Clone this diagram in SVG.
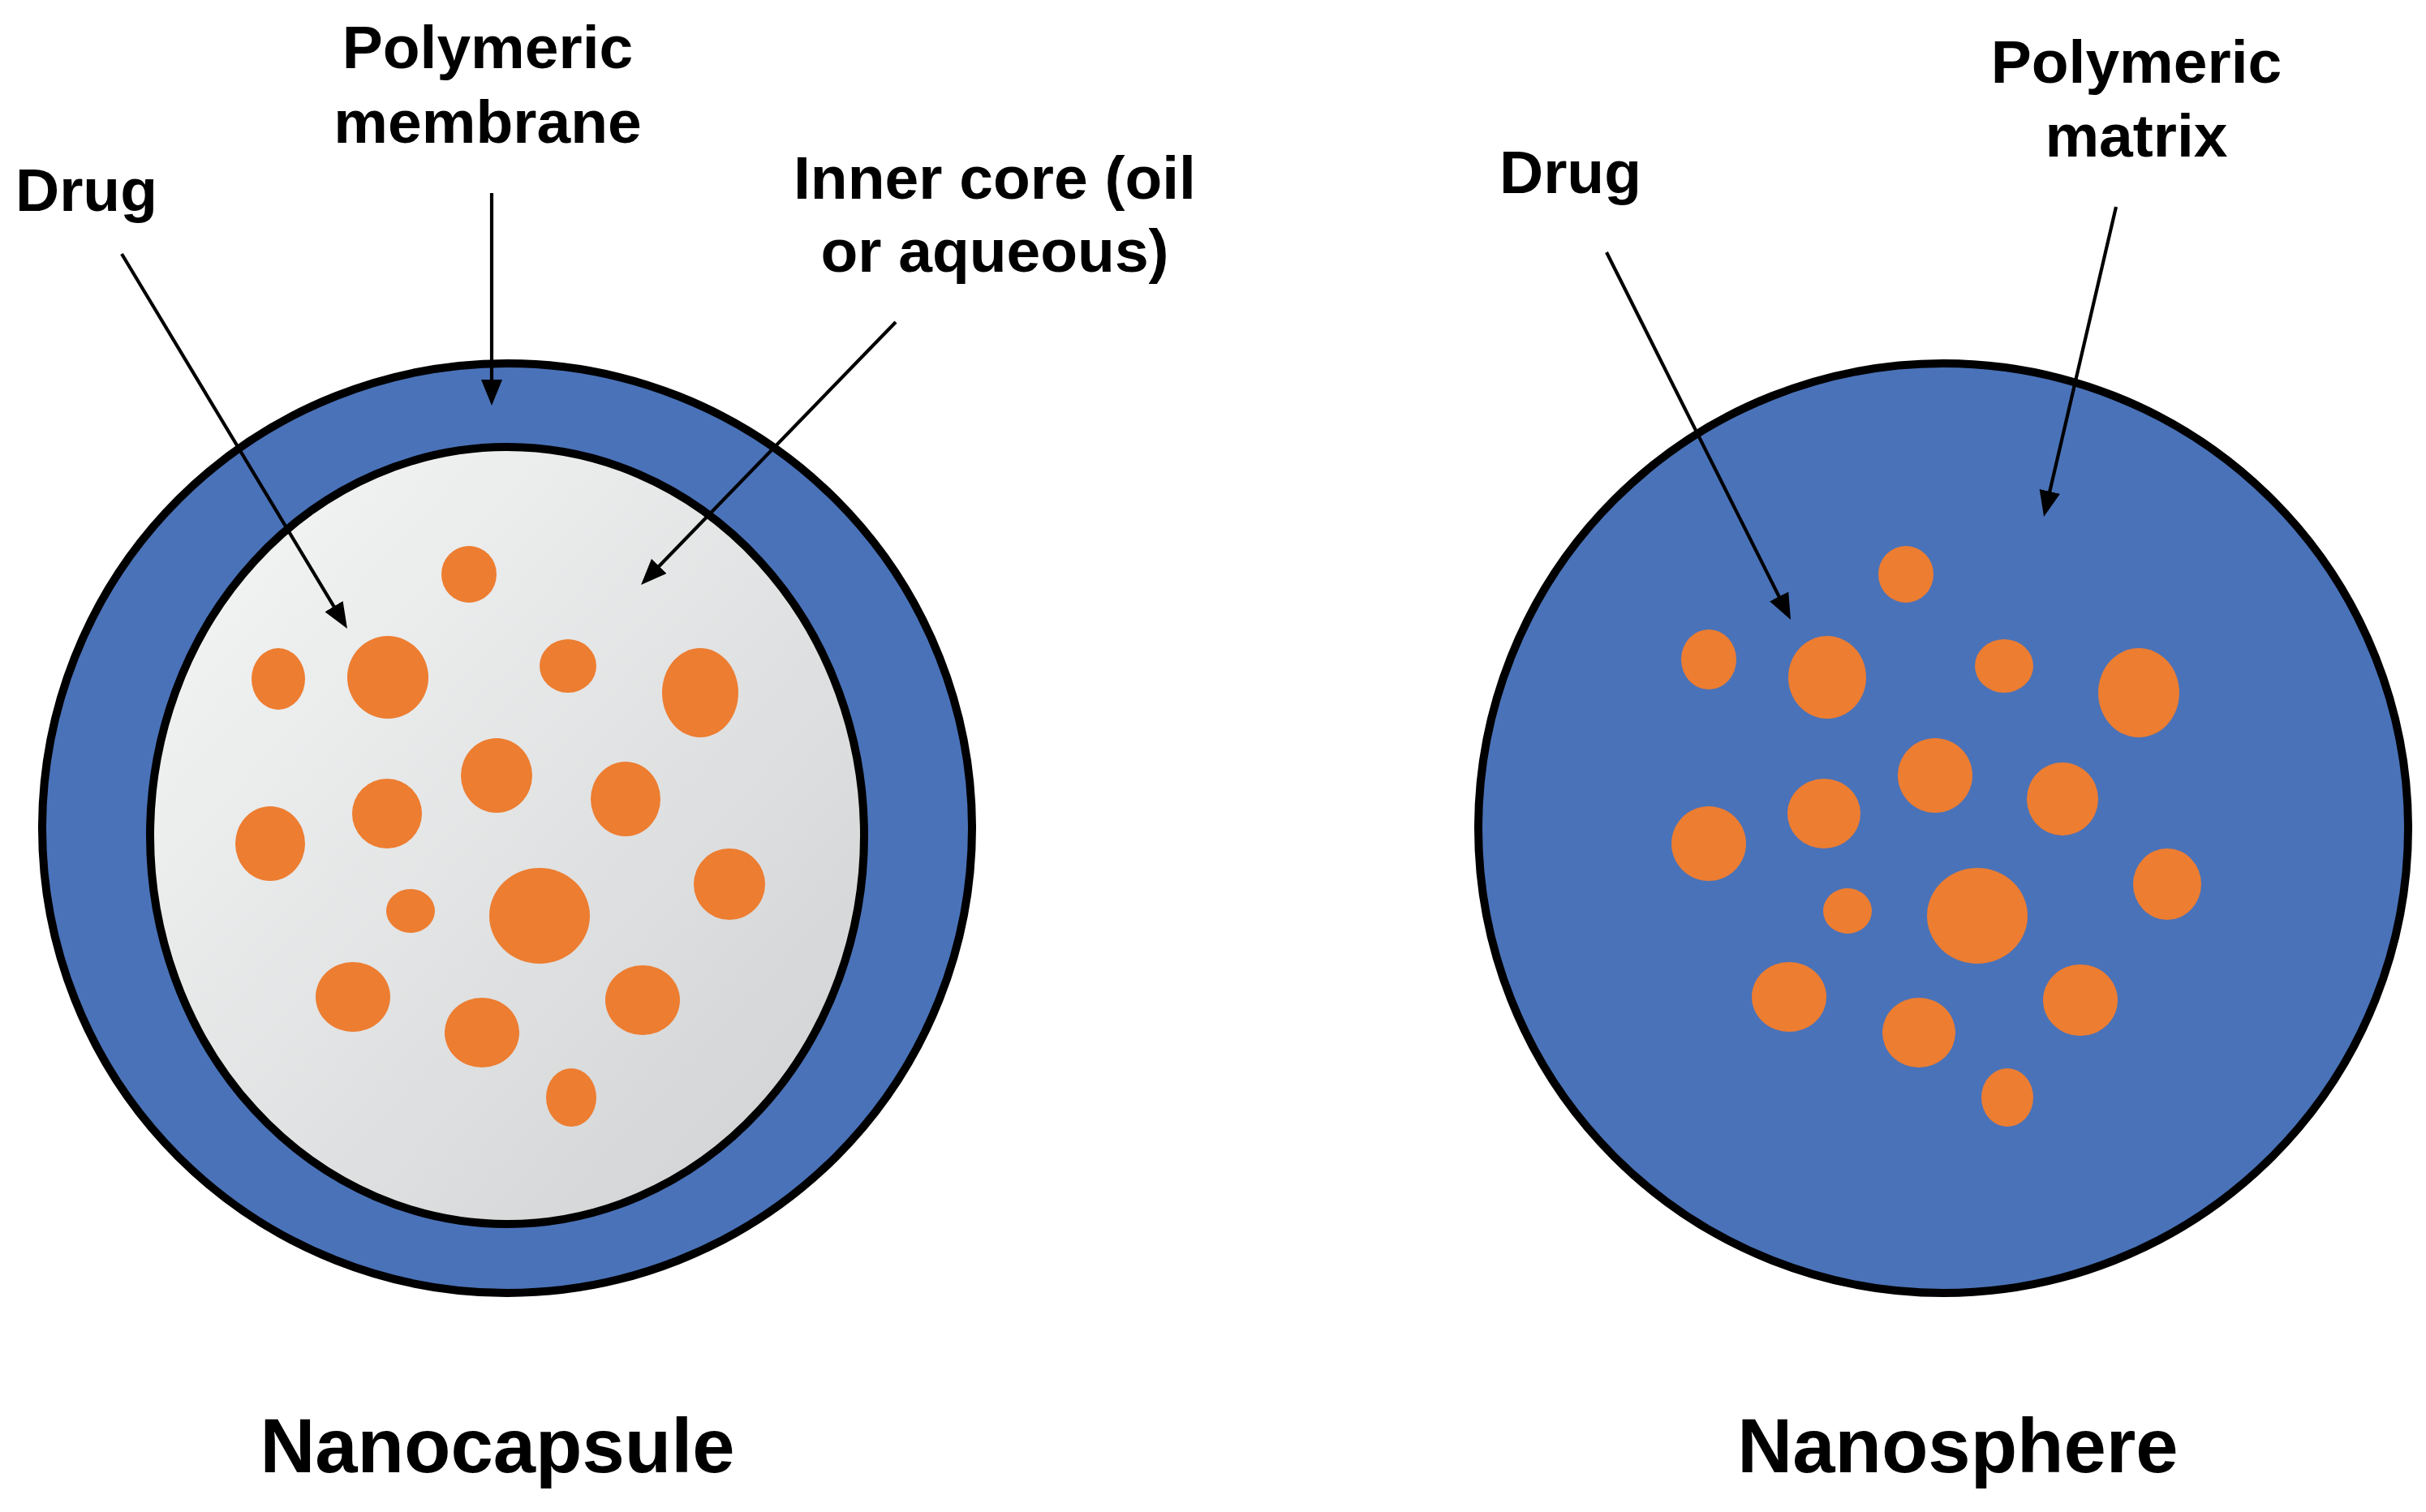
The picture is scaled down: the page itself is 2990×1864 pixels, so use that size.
<svg xmlns="http://www.w3.org/2000/svg" width="2990" height="1864" viewBox="0 0 2990 1864">
<style>
.lbl{font-family:"Liberation Sans",Arial,sans-serif;font-weight:bold;font-size:75px;fill:#000}
.title{font-family:"Liberation Sans",Arial,sans-serif;font-weight:bold;font-size:94px;fill:#000}
.shell{fill:#4A72B8;stroke:#000;stroke-width:10}
.dot{fill:#ED7D31}
.arr{stroke:#000;stroke-width:4.2;fill:none;marker-end:url(#ah)}
</style>
<defs>
<linearGradient id="core" x1="0" y1="0" x2="1" y2="1">
<stop offset="0" stop-color="#f6f7f7"/>
<stop offset="1" stop-color="#cfd0d1"/>
</linearGradient>
<marker id="ah" viewBox="0 0 32 26" refX="22" refY="13" markerWidth="32" markerHeight="26" markerUnits="userSpaceOnUse" orient="auto">
<path d="M0,0 L32,13 L0,26 z" fill="#000"/>
</marker>
</defs>
<rect width="2990" height="1864" fill="#fff"/>
<g id="nanocapsule">
<circle class="shell" cx="625" cy="1021" r="573"/>
<ellipse cx="625" cy="1030" rx="440" ry="479" fill="url(#core)" stroke="#000" stroke-width="10"/>
<g class="dot">
<ellipse cx="578" cy="708" rx="34" ry="35"/>
<ellipse cx="343" cy="837" rx="33" ry="38"/>
<ellipse cx="478" cy="835" rx="50" ry="51"/>
<ellipse cx="700" cy="821" rx="35" ry="33"/>
<ellipse cx="863" cy="854" rx="47" ry="55"/>
<ellipse cx="612" cy="956" rx="44" ry="46"/>
<ellipse cx="477" cy="1003" rx="43" ry="43"/>
<ellipse cx="771" cy="985" rx="43" ry="46"/>
<ellipse cx="333" cy="1040" rx="43" ry="46"/>
<ellipse cx="506" cy="1123" rx="30" ry="27"/>
<ellipse cx="665" cy="1129" rx="62" ry="59"/>
<ellipse cx="899" cy="1090" rx="44" ry="44"/>
<ellipse cx="435" cy="1229" rx="46" ry="43"/>
<ellipse cx="594" cy="1273" rx="46" ry="43"/>
<ellipse cx="792" cy="1233" rx="46" ry="43"/>
<ellipse cx="704" cy="1353" rx="31" ry="36"/>
</g>
</g>
<g id="nanosphere">
<circle class="shell" cx="2395" cy="1021" r="573"/>
<g class="dot">
<ellipse cx="2349" cy="708" rx="34" ry="35"/>
<ellipse cx="2106" cy="813" rx="34" ry="37"/>
<ellipse cx="2252" cy="835" rx="48" ry="51"/>
<ellipse cx="2470" cy="821" rx="36" ry="33"/>
<ellipse cx="2636" cy="854" rx="50" ry="55"/>
<ellipse cx="2385" cy="956" rx="46" ry="46"/>
<ellipse cx="2248" cy="1003" rx="45" ry="43"/>
<ellipse cx="2542" cy="985" rx="44" ry="45"/>
<ellipse cx="2106" cy="1040" rx="46" ry="46"/>
<ellipse cx="2277" cy="1123" rx="30" ry="28"/>
<ellipse cx="2437" cy="1129" rx="62" ry="59"/>
<ellipse cx="2671" cy="1090" rx="42" ry="44"/>
<ellipse cx="2205" cy="1229" rx="46" ry="43"/>
<ellipse cx="2365" cy="1273" rx="45" ry="43"/>
<ellipse cx="2564" cy="1233" rx="46" ry="44"/>
<ellipse cx="2474" cy="1353" rx="32" ry="36"/>
</g>
</g>
<g id="connectors">
<line class="arr" x1="150" y1="313" x2="422.8" y2="766.4"/>
<line class="arr" x1="606" y1="238" x2="606" y2="490"/>
<line class="arr" x1="1104" y1="397" x2="797" y2="713.8"/>
<line class="arr" x1="1980" y1="311" x2="2202.5" y2="755.1"/>
<line class="arr" x1="2608" y1="255" x2="2521.3" y2="627.3"/>
</g>
<g id="label-membrane">
<text class="lbl" x="601" y="84" text-anchor="middle">Polymeric</text>
<text class="lbl" x="601" y="176" text-anchor="middle">membrane</text>
</g>
<g id="label-drug-left">
<text class="lbl" x="19" y="260">Drug</text>
</g>
<g id="label-core">
<text class="lbl" x="1226" y="245" text-anchor="middle">Inner core (oil</text>
<text class="lbl" x="1226" y="335" text-anchor="middle">or aqueous)</text>
</g>
<g id="label-drug-right">
<text class="lbl" x="1848" y="238">Drug</text>
</g>
<g id="label-matrix">
<text class="lbl" x="2633" y="102" text-anchor="middle">Polymeric</text>
<text class="lbl" x="2633" y="193" text-anchor="middle">matrix</text>
</g>
<g id="title-nanocapsule">
<text class="title" x="613" y="1815" text-anchor="middle">Nanocapsule</text>
</g>
<g id="title-nanosphere">
<text class="title" x="2413" y="1815" text-anchor="middle">Nanosphere</text>
</g>
</svg>
